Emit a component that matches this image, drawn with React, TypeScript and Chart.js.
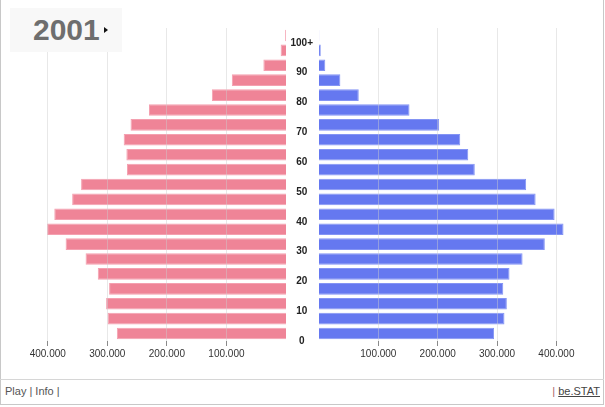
import React, { useEffect, useRef } from 'react';
import { Chart, registerables } from 'chart.js';

Chart.register(...registerables);

const YEAR = '2001';

const AGE_GROUPS = [
  '100+', '95-99', '90-94', '85-89', '80-84', '75-79', '70-74', '65-69', '60-64', '55-59',
  '50-54', '45-49', '40-44', '35-39', '30-34', '25-29', '20-24', '15-19', '10-14', '5-9', '0-4',
];

const FEMALE = [
  1500, 9000, 38000, 91000, 124500, 230000, 261000, 272500, 268000, 267000,
  344000, 359000, 389000, 401000, 370000, 336500, 316000, 297000, 302000, 299500, 284000,
];

const MALE = [
  400, 3000, 10600, 36000, 67000, 152500, 202500, 238000, 251500, 262500,
  349000, 365000, 397000, 412000, 380500, 343000, 321000, 310500, 316500, 312500, 295000,
];

const X_TICKS = [100000, 200000, 300000, 400000];
const X_MAX = 460000;
const AGE_TICKS = [0, 10, 20, 30, 40, 50, 60, 70, 80, 90, 100];
const AGE_TICK_LABELS = ['0', '10', '20', '30', '40', '50', '60', '70', '80', '90', '100+'];
const AGE_MAX = 105;

const PINK = 'rgb(239,132,151)';
const PINK_BORDER = 'rgb(244,160,176)';
const BLUE = 'rgb(101,120,240)';
const BLUE_BORDER = 'rgb(132,148,244)';

const fmt = (v: number) => String(v).replace(/\B(?=(\d{3})+(?!\d))/g, '.');

function xScale(reverse: boolean) {
  return {
    type: 'linear',
    position: 'bottom',
    reverse,
    min: 0,
    max: X_MAX,
    afterBuildTicks: (s: any) => {
      s.ticks = X_TICKS.map((v) => ({ value: v }));
    },
    afterFit: (s: any) => {
      s.height = 30;
    },
    border: { display: false },
    grid: {
      color: 'rgba(205,205,205,0.45)',
      z: 1,
      tickLength: 5,
      tickColor: '#8a8a8a',
      lineWidth: 1,
    },
    ticks: {
      padding: 2,
      color: '#333',
      font: { family: 'Arial, "Liberation Sans", sans-serif', size: 10 },
      callback: (v: any) => fmt(Number(v)),
    },
  };
}

export default function App() {
  const leftRef = useRef<HTMLCanvasElement | null>(null);
  const rightRef = useRef<HTMLCanvasElement | null>(null);

  useEffect(() => {
    document.body.style.margin = '0';
    const common = {
      indexAxis: 'y' as const,
      responsive: false,
      animation: false as const,
      plugins: { legend: { display: false }, tooltip: { enabled: false } },
    };

    const left = new Chart(leftRef.current!, {
      type: 'bar',
      data: {
        labels: AGE_GROUPS,
        datasets: [
          {
            data: FEMALE,
            backgroundColor: PINK,
            borderColor: PINK_BORDER,
            borderWidth: 1,
            categoryPercentage: 1,
            barPercentage: 0.78,
          },
        ],
      },
      options: {
        ...common,
        layout: { padding: { top: 28, left: 12, right: 0, bottom: 0 } },
        scales: {
          x: xScale(true) as any,
          y: { type: 'category', display: false },
        },
      },
    });

    const right = new Chart(rightRef.current!, {
      type: 'bar',
      data: {
        labels: AGE_GROUPS,
        datasets: [
          {
            data: MALE,
            backgroundColor: BLUE,
            borderColor: BLUE_BORDER,
            borderWidth: 1,
            categoryPercentage: 1,
            barPercentage: 0.78,
          },
        ],
      },
      options: {
        ...common,
        layout: { padding: { top: 28, left: 0, right: 0, bottom: 0 } },
        scales: {
          x: xScale(false) as any,
          y: { type: 'category', display: false },
          age: {
            type: 'linear',
            position: 'left',
            axis: 'y',
            offset: false,
            min: 0,
            max: AGE_MAX,
            afterBuildTicks: (s: any) => {
              s.ticks = AGE_TICKS.map((v) => ({ value: v }));
            },
            afterFit: (s: any) => {
              s.width = 33;
            },
            border: { display: false },
            grid: { display: false, drawTicks: false, offset: false },
            ticks: {
              crossAlign: 'center',
              padding: 6,
              color: '#222',
              font: { family: 'Arial, "Liberation Sans", sans-serif', size: 10, weight: 'bold' },
              callback: (v: any) => {
                const i = AGE_TICKS.indexOf(Number(v));
                return i >= 0 ? AGE_TICK_LABELS[i] : '';
              },
            },
          } as any,
        },
      },
    });

    return () => {
      left.destroy();
      right.destroy();
    };
  }, []);

  const font = 'Arial, "Liberation Sans", sans-serif';

  return (
    <div style={{ position: 'relative', width: 605, height: 407, overflow: 'hidden', background: '#fff', fontFamily: font }}>
      <div
        style={{
          position: 'absolute', left: 0, top: 0, width: 604, height: 405, boxSizing: 'border-box',
          borderLeft: '1px solid #c8c8c8', borderRight: '1px solid #c8c8c8', borderBottom: '1px solid #c8c8c8',
        }}
      />
      <div style={{ position: 'absolute', left: 0, top: 379, width: 604, height: 1, background: '#d6d6d6' }} />
      <canvas ref={leftRef} width={286} height={371} style={{ position: 'absolute', left: 0, top: 0 }} />
      <canvas ref={rightRef} width={306} height={371} style={{ position: 'absolute', left: 286, top: 0 }} />
      <div style={{ position: 'absolute', left: 10, top: 8, width: 112, height: 44, background: '#f8f8f8' }}>
        <span
          style={{
            position: 'absolute', left: 23, top: 6.6, fontSize: 30, lineHeight: '30px', fontWeight: 'bold',
            color: '#6e6e6e', whiteSpace: 'nowrap',
          }}
        >
          {YEAR}
        </span>
        <div
          style={{
            position: 'absolute', left: 94, top: 19, width: 0, height: 0,
            borderTop: '3px solid transparent', borderBottom: '3px solid transparent', borderLeft: '4px solid #111',
          }}
        />
      </div>
      <div style={{ position: 'absolute', left: 5, top: 383, fontSize: 11, lineHeight: '16px', color: '#555', whiteSpace: 'nowrap' }}>
        Play | Info |
      </div>
      <div style={{ position: 'absolute', right: 5, top: 383, fontSize: 11, lineHeight: '16px', color: '#555', whiteSpace: 'nowrap' }}>
        <span style={{ color: '#a66' }}>| </span>
        <span style={{ textDecoration: 'underline', color: '#444' }}>be.STAT</span>
      </div>
    </div>
  );
}
